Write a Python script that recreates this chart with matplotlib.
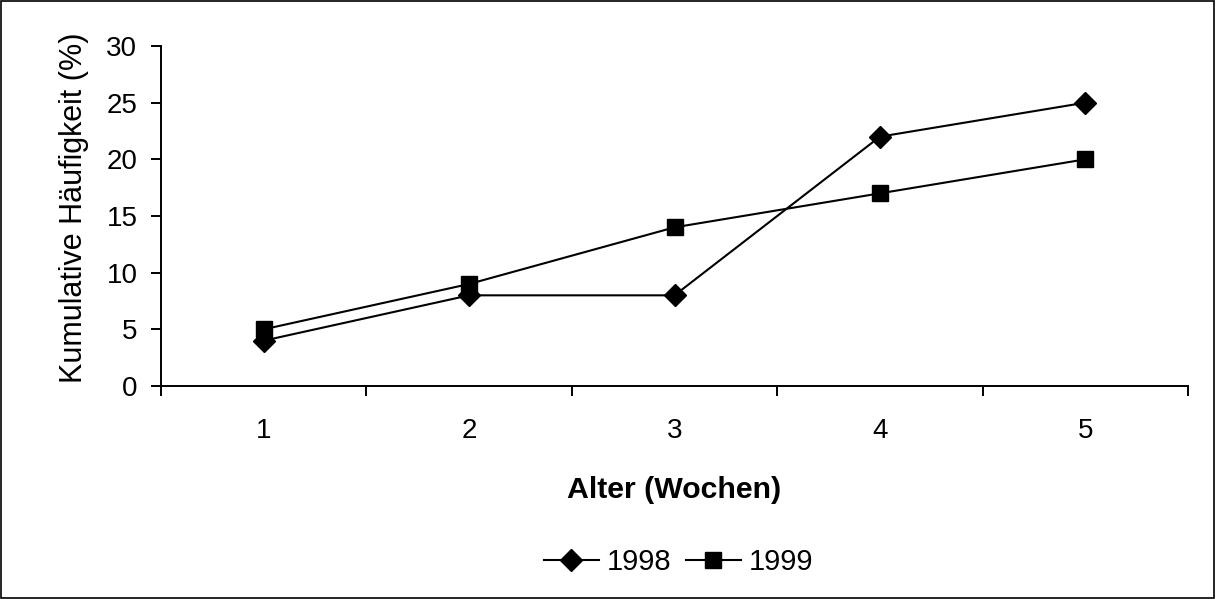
import matplotlib
matplotlib.use("Agg")
import matplotlib.pyplot as plt
from matplotlib.patches import Rectangle

plt.rcParams["font.family"] = ["Liberation Sans", "DejaVu Sans"]

weeks = [1, 2, 3, 4, 5]
freq_1998 = [4, 8, 8, 22, 25]
freq_1999 = [5, 9, 14, 17, 20]
y_ticks = [0, 5, 10, 15, 20, 25, 30]

fig = plt.figure(figsize=(12.16, 5.99), dpi=100)
ax = fig.add_axes([0.1324, 0.3556, 0.8446, 0.5676])

ax.plot(weeks, freq_1998, color="black", lw=1.5, marker="D", ms=11, label="1998")
ax.plot(weeks, freq_1999, color="black", lw=1.5, marker="s", ms=11, label="1999")

ax.set_xlim(0.5, 5.5)
ax.set_ylim(0, 30)
ax.set_yticks(y_ticks)
ax.set_xticks(weeks)
# category boundaries carry the x tick marks
ax.set_xticks([w - 0.5 for w in weeks] + [5.5], minor=True)
ax.tick_params(axis="x", which="major", length=0, pad=23, labelsize=20)
ax.tick_params(axis="x", which="minor", length=7, width=1.4, direction="out")
ax.tick_params(axis="y", length=7, width=1.4, direction="out", pad=10, labelsize=20)

for side in ("top", "right"):
    ax.spines[side].set_visible(False)
for side in ("left", "bottom"):
    ax.spines[side].set_linewidth(1.4)

ax.set_ylabel("Kumulative Häufigkeit (%)", fontsize=22)
ax.yaxis.set_label_coords(-0.070, 0.523)
ax.set_xlabel("Alter (Wochen)", fontsize=21.8, fontweight="bold", labelpad=23)

fig.legend(loc="center", bbox_to_anchor=(0.558, 0.062), ncol=2, frameon=False,
           fontsize=21, handlelength=1.88, handletextpad=0.27, columnspacing=0.5)

fig.patches.append(Rectangle((0.001, 0.001), 0.997, 0.997, transform=fig.transFigure,
                             fill=False, edgecolor="black", lw=1.2))

fig.savefig("out.png", dpi=100)
